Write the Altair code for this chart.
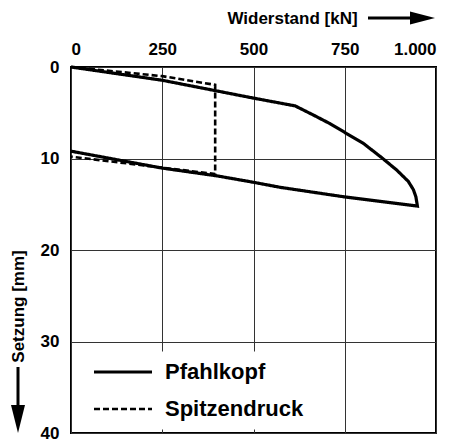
import altair as alt
import pandas as pd

# Pfahlkopf (pile head) load-settlement loop
pfahl_x = [0, 250, 500, 614, 664, 710, 750, 801, 851, 892, 924, 938, 945, 949,
           750, 573, 500, 400, 250, 0]
pfahl_y = [0, 1.45, 3.4, 4.25, 5.25, 6.2, 7.15, 8.35, 9.9, 11.25, 12.5, 13.4, 14.2, 15.2,
           14.2, 13.15, 12.6, 11.9, 11.05, 9.2]

# Spitzendruck (tip resistance)
spitz_x = [0, 250, 395, 395, 250, 0]
spitz_y = [0, 1.0, 1.95, 11.7, 11.0, 9.8]

series_names = ["Pfahlkopf", "Spitzendruck"]
x_ticks = [0, 250, 500, 750, 1000]
y_ticks = [0, 10, 20, 30, 40]

rows = []
for i, (x, y) in enumerate(zip(pfahl_x, pfahl_y)):
    rows.append({"x": x, "y": y, "series": series_names[0], "i": i})
for i, (x, y) in enumerate(zip(spitz_x, spitz_y)):
    rows.append({"x": x, "y": y, "series": series_names[1], "i": i})
df = pd.DataFrame(rows)

FONT = "Liberation Sans"

lines = alt.Chart(df).mark_line().encode(
    x=alt.X("x:Q",
            scale=alt.Scale(domain=[0, 1000], nice=False, zero=False),
            axis=alt.Axis(orient="top", values=x_ticks, grid=True, ticks=False, tickSize=0,
                          domain=False, labelPadding=9,
                          labelExpr="replace(format(datum.value, ','), ',', '.')",
                          title="Widerstand [kN]", titleX=221, titleY=-49,
                          titleAlign="center", titleBaseline="middle", titleAngle=0)),
    y=alt.Y("y:Q",
            scale=alt.Scale(domain=[0, 40], reverse=True, nice=False, zero=False),
            axis=alt.Axis(values=y_ticks, grid=True, ticks=False, tickSize=0, domain=False,
                          labelPadding=12,
                          title="Setzung [mm]", titleX=-53, titleY=239,
                          titleAlign="center", titleBaseline="middle", titleAngle=270)),
    order="i:Q",
    strokeDash=alt.StrokeDash("series:N",
        scale=alt.Scale(domain=series_names, range=[[1, 0], [6, 3]]),
        legend=alt.Legend(title=None, orient="none", legendX=19, legendY=284.5,
                          fillColor="white", padding=2, symbolType="stroke",
                          symbolSize=3364, symbolStrokeWidth=3, symbolStrokeColor="black",
                          clipHeight=37, rowPadding=0, labelOffset=11,
                          labelFont=FONT, labelFontSize=22, labelFontWeight="bold",
                          labelColor="black")),
    strokeWidth=alt.StrokeWidth("series:N",
        scale=alt.Scale(domain=series_names, range=[3.2, 2.6]), legend=None),
    color=alt.value("black"),
)

dummy = pd.DataFrame({"a": [0]})

x_shaft = alt.Chart(dummy).mark_rule(color="black", strokeWidth=3).encode(
    x=alt.value(297), x2=alt.value(342), y=alt.value(-49))
x_head = alt.Chart(dummy).mark_point(shape="M-1,-0.52L1,0L-1,0.52Z", size=625,
                                     filled=True, color="black", opacity=1,
                                     strokeWidth=0).encode(
    x=alt.value(351.5), y=alt.value(-49))
y_shaft = alt.Chart(dummy).mark_rule(color="black", strokeWidth=3).encode(
    x=alt.value(-53), y=alt.value(300), y2=alt.value(342))
y_head = alt.Chart(dummy).mark_point(shape="M-0.5,-1L0.5,-1L0,1Z", size=784,
                                     filled=True, color="black", opacity=1,
                                     strokeWidth=0).encode(
    x=alt.value(-53), y=alt.value(352))

chart = alt.layer(lines, x_shaft, x_head, y_shaft, y_head).properties(
    width=365, height=366,
    autosize=alt.AutoSizeParams(type="none"),
    padding={"left": 63, "top": 59, "right": 17, "bottom": 8},
).configure_view(
    stroke="black", strokeWidth=2
).configure_axis(
    labelFont=FONT, labelFontSize=17, labelFontWeight="bold", labelColor="black",
    titleFont=FONT, titleFontSize=17, titleFontWeight="bold", titleColor="black",
    gridColor="#333333", gridWidth=1, gridOpacity=1,
)

chart.save("out.html", embed_options={"renderer": "svg", "actions": False})
